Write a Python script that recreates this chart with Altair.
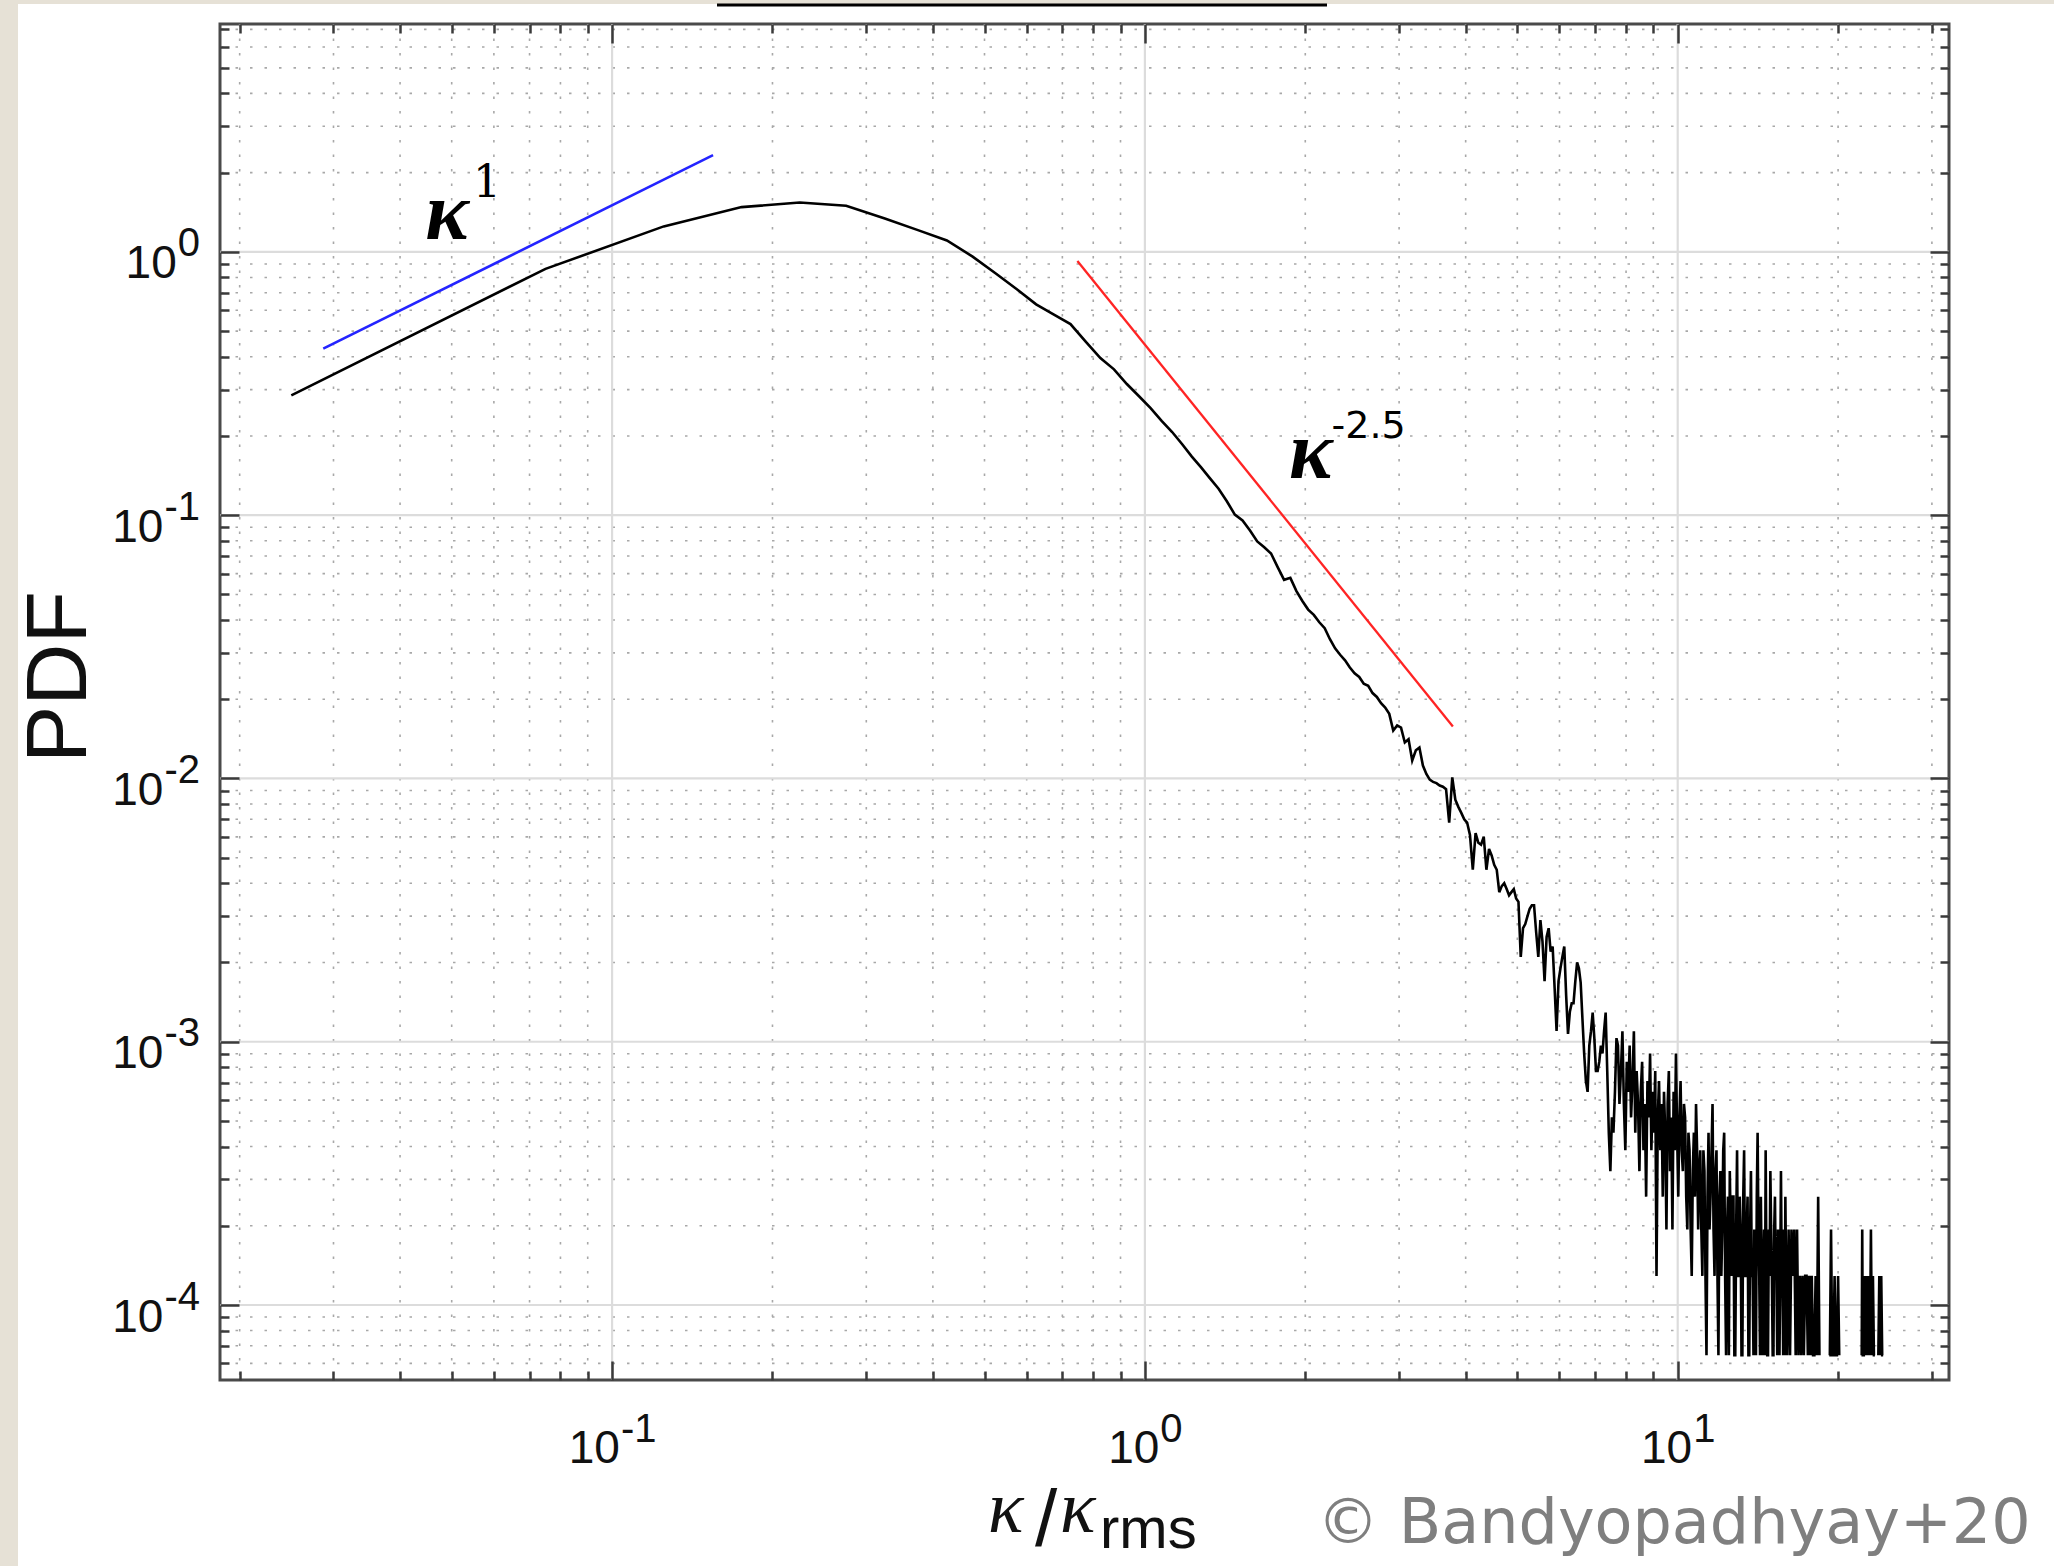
import altair as alt
import pandas as pd

# ---------------- data ----------------
# smooth / moderately noisy part of the PDF (bin centres, PDF value)
HEAD_KAPPA = [
    0.025, 0.075, 0.125, 0.175, 0.225, 0.275, 0.325, 0.375, 0.425, 0.475,
    0.525, 0.575, 0.625, 0.675, 0.725, 0.775, 0.825, 0.875, 0.925, 0.975,
    1.025, 1.075, 1.125, 1.175, 1.225, 1.275, 1.325, 1.375, 1.425, 1.475,
    1.525, 1.575, 1.625, 1.675, 1.725, 1.775, 1.825, 1.875, 1.925, 1.975,
    2.025, 2.075, 2.125, 2.175, 2.225, 2.275, 2.325, 2.375, 2.425, 2.475,
    2.525, 2.575, 2.625, 2.675, 2.725, 2.775, 2.825, 2.875, 2.925, 2.975,
    3.025, 3.075, 3.125, 3.175, 3.225, 3.275, 3.325, 3.375, 3.425, 3.475,
    3.525, 3.575, 3.625, 3.675, 3.725, 3.775, 3.825, 3.875, 3.925, 3.975,
    4.025, 4.075, 4.125, 4.175, 4.225, 4.275, 4.325, 4.375, 4.425, 4.475,
    4.525, 4.575, 4.625, 4.675, 4.725, 4.775, 4.825, 4.875, 4.925, 4.975,
    5.025, 5.075, 5.125, 5.175, 5.225, 5.275, 5.325, 5.375, 5.425, 5.475,
    5.525, 5.575, 5.625, 5.675, 5.725, 5.775, 5.825, 5.875, 5.925, 5.975,
    6.025, 6.075, 6.125, 6.175, 6.225, 6.275, 6.325, 6.375, 6.425, 6.475, 6.525,
]
HEAD_PDF = [
    0.285, 0.862, 1.25, 1.48, 1.54, 1.497, 1.34, 1.21, 1.105, 0.96,
    0.828, 0.722, 0.632, 0.578, 0.532, 0.455, 0.395, 0.358, 0.315, 0.283,
    0.255, 0.228, 0.207, 0.186, 0.167, 0.152, 0.138, 0.126, 0.113, 0.1005,
    0.0955, 0.0875, 0.0795, 0.0755, 0.0715, 0.0635, 0.0568, 0.0578, 0.0515, 0.0472,
    0.0438, 0.0418, 0.0392, 0.0372, 0.0338, 0.0312, 0.0295, 0.0281, 0.0264, 0.0251,
    0.0243, 0.0229, 0.0225, 0.0211, 0.0204, 0.0193, 0.0186, 0.0176, 0.0152, 0.0159,
    0.0156, 0.0137, 0.0141, 0.0117, 0.0128, 0.0131, 0.0112, 0.0104, 0.0099, 0.0097,
    0.0096, 0.0094, 0.0093, 0.0091, 0.0068, 0.0101, 0.0083, 0.0078, 0.0074, 0.0070,
    0.0068, 0.0061, 0.0045, 0.0062, 0.0057, 0.0056, 0.0060, 0.0045, 0.0054, 0.0051,
    0.0047, 0.0045, 0.0037, 0.0039, 0.0040, 0.0038, 0.0036, 0.0037, 0.0038, 0.0035,
    0.0034, 0.0021, 0.0027, 0.0028, 0.0030, 0.0032, 0.0033, 0.0033, 0.0026, 0.0021,
    0.0029, 0.0024, 0.0017, 0.0025, 0.0027, 0.0022, 0.0023, 0.0016, 0.0011, 0.0017,
    0.0019, 0.0021, 0.0023, 0.0015, 0.00107, 0.0013, 0.0014, 0.0014, 0.0017, 0.0020, 0.0019,
]

# noisy tail: read as number of counts per bin (quantised levels)
COUNT_UNIT = 6.45e-5
TAIL_KAPPA = [
    6.575, 6.625, 6.675, 6.725, 6.775, 6.825, 6.875, 6.925, 6.975, 7.025,
    7.075, 7.125, 7.175, 7.225, 7.275, 7.325, 7.375, 7.425, 7.475, 7.525,
    7.575, 7.625, 7.675, 7.725, 7.775, 7.825, 7.875, 7.925, 7.975, 8.025,
    8.075, 8.125, 8.175, 8.225, 8.275, 8.325, 8.375, 8.425, 8.475, 8.525,
    8.575, 8.625, 8.675, 8.725, 8.775, 8.825, 8.875, 8.925, 8.975, 9.025,
    9.075, 9.125, 9.175, 9.225, 9.275, 9.325, 9.375, 9.425, 9.475, 9.525,
    9.575, 9.625, 9.675, 9.725, 9.775, 9.825, 9.875, 9.925, 9.975,
]
TAIL_COUNTS = [
    26, 19, 14, 11, 10, 15, 17, 20, 16, 12,
    12, 13, 15, 14, 17, 20, 12, 7, 5, 8,
    7, 10, 16, 15, 9, 12, 17, 9, 6, 13,
    10, 15, 8, 11, 17, 7, 12, 9, 5, 10,
    13, 6, 9, 4, 11, 8, 14, 6, 10, 7,
    12, 2, 8, 11, 6, 9, 4, 10, 7, 3,
    9, 12, 5, 8, 3, 10, 6, 14, 7,
]
FAR_KAPPA = [
    10.025, 10.075, 10.125, 10.175, 10.225, 10.275, 10.325, 10.375, 10.425, 10.475,
    10.525, 10.575, 10.625, 10.675, 10.725, 10.775, 10.825, 10.875, 10.925, 10.975,
    11.025, 11.075, 11.125, 11.175, 11.225, 11.275, 11.325, 11.375, 11.425, 11.475,
    11.525, 11.575, 11.625, 11.675, 11.725, 11.775, 11.825, 11.875, 11.925, 11.975,
    12.025, 12.075, 12.125, 12.175, 12.225, 12.275, 12.325, 12.375, 12.425, 12.475,
    12.525, 12.575, 12.625, 12.675, 12.725, 12.775, 12.825, 12.875, 12.925, 12.975,
    13.025, 13.075, 13.125, 13.175, 13.225, 13.275, 13.325, 13.375, 13.425, 13.475,
    13.525, 13.575, 13.625, 13.675, 13.725, 13.775, 13.825, 13.875, 13.925, 13.975,
    14.025, 14.075, 14.125, 14.175, 14.225, 14.275, 14.325, 14.375, 14.425, 14.475,
    14.525, 14.575, 14.625, 14.675, 14.725, 14.775, 14.825, 14.875, 14.925, 14.975,
    15.025, 15.075, 15.125, 15.175, 15.225, 15.275, 15.325, 15.375, 15.425, 15.475,
    15.525, 15.575, 15.625, 15.675, 15.725, 15.775, 15.825, 15.875, 15.925, 15.975,
    16.05, 16.15, 16.25, 16.35, 16.45, 16.55, 16.65, 16.75, 16.85, 16.95,
    17.05, 17.15, 17.25, 17.35, 17.45, 17.55, 17.65, 17.75, 17.85, 17.95,
    18.05, 18.15, 18.25, 18.35, 18.45,
]
FAR_COUNTS = [
    4, 8, 11, 6, 5, 9, 8, 4, 3, 7,
    6, 3, 2, 5, 7, 4, 9, 6, 3, 5,
    6, 3, 2, 6, 5, 2, 1, 4, 7, 3,
    4, 6, 9, 3, 2, 5, 6, 2, 1, 4,
    5, 2, 3, 6, 7, 2, 1, 3, 4, 1,
    5, 3, 2, 4, 4, 1, 1, 3, 6, 2,
    2, 4, 3, 1, 1, 4, 6, 2, 2, 3,
    4, 1, 1, 3, 5, 2, 2, 1, 3, 2,
    1, 4, 7, 3, 2, 1, 4, 2, 1, 2,
    3, 1, 6, 2, 1, 1, 3, 2, 5, 3,
    2, 1, 1, 3, 4, 2, 2, 1, 3, 2,
    1, 2, 5, 2, 2, 1, 3, 1, 4, 2,
    1, 3, 1, 3, 2, 3, 1, 3, 1, 2,
    1, 2, 1, 2, 2, 1, 2, 1, 2, 1,
    1, 2, 1, 4, 1,
]
# isolated stretches after empty bins
ISLAND1_KAPPA = [19.25, 19.3, 19.4, 19.5, 19.6, 19.7, 19.8, 19.9, 20.0, 20.1]
ISLAND1_COUNTS = [1, 1, 3, 1, 1, 2, 1, 1, 2, 1]
ISLAND2_KAPPA = [22.15, 22.2, 22.25, 22.35, 22.45, 22.55, 22.65, 22.75, 22.85, 22.95,
                 23.05, 23.15, 23.25, 23.35, 23.45]
ISLAND2_COUNTS = [1, 3, 1, 1, 2, 1, 2, 1, 2, 1, 3, 1, 2, 1, 1]
ISLAND3_KAPPA = [23.8, 23.9, 24.0, 24.1, 24.2, 24.3]
ISLAND3_COUNTS = [1, 2, 1, 2, 1, 1]

# reference power laws
FIT1_KAPPA = [0.0287, 0.1547]
FIT1_PDF = [0.429, 2.33]
FIT2_KAPPA = [0.747, 3.785]
FIT2_PDF = [0.924, 0.01576]

# axes
X_DOMAIN = [0.01837, 32.3]
Y_DOMAIN = [5.19e-5, 7.34]
X_MAJOR = [0.1, 1, 10]
X_EXP = ["-1", "0", "1"]
Y_MAJOR = [1, 0.1, 0.01, 0.001, 0.0001]
Y_EXP = ["0", "-1", "-2", "-3", "-4"]
X_MINOR = [0.02, 0.03, 0.04, 0.05, 0.06, 0.07, 0.08, 0.09,
           0.2, 0.3, 0.4, 0.5, 0.6, 0.7, 0.8, 0.9,
           2, 3, 4, 5, 6, 7, 8, 9, 20, 30]
Y_MINOR = [6e-5, 7e-5, 8e-5, 9e-5,
           2e-4, 3e-4, 4e-4, 5e-4, 6e-4, 7e-4, 8e-4, 9e-4,
           2e-3, 3e-3, 4e-3, 5e-3, 6e-3, 7e-3, 8e-3, 9e-3,
           0.02, 0.03, 0.04, 0.05, 0.06, 0.07, 0.08, 0.09,
           0.2, 0.3, 0.4, 0.5, 0.6, 0.7, 0.8, 0.9,
           2, 3, 4, 5, 6, 7]

# ---------------- layout / style ----------------
W, H = 1729, 1356
SANS = "Liberation Sans"
SERIF = "Liberation Serif"
INK = "#111111"
BASE_SIZE = 46
EXP_SIZE = 40
PAPER = "#e6e1d6"

xs = alt.Scale(type="log", domain=X_DOMAIN, nice=False)
ys = alt.Scale(type="log", domain=Y_DOMAIN, nice=False)

# ---------------- frames ----------------
kap, pdf, seg = [], [], []
kap += HEAD_KAPPA; pdf += HEAD_PDF; seg += [0] * len(HEAD_KAPPA)
kap += TAIL_KAPPA; pdf += [c * COUNT_UNIT for c in TAIL_COUNTS]; seg += [0] * len(TAIL_KAPPA)
kap += FAR_KAPPA; pdf += [c * COUNT_UNIT for c in FAR_COUNTS]; seg += [0] * len(FAR_KAPPA)
for i, (kk, cc) in enumerate([(ISLAND1_KAPPA, ISLAND1_COUNTS),
                              (ISLAND2_KAPPA, ISLAND2_COUNTS),
                              (ISLAND3_KAPPA, ISLAND3_COUNTS)]):
    kap += kk; pdf += [c * COUNT_UNIT for c in cc]; seg += [i + 1] * len(kk)
curve = pd.DataFrame({"kappa": kap, "pdf": pdf, "seg": seg})

fit1 = pd.DataFrame({"kappa": FIT1_KAPPA, "pdf": FIT1_PDF})
fit2 = pd.DataFrame({"kappa": FIT2_KAPPA, "pdf": FIT2_PDF})

one = pd.DataFrame({"x": [1.0], "y": [1.0]})

layers = []

# paper edge of the slide (left and top strips)
layers.append(alt.Chart(one).mark_rect(color=PAPER).encode(
    x=alt.value(-220), x2=alt.value(-202), y=alt.value(-24), y2=alt.value(H + 186)))
layers.append(alt.Chart(one).mark_rect(color=PAPER).encode(
    x=alt.value(-220), x2=alt.value(W + 105), y=alt.value(-24), y2=alt.value(-20)))

# grid
layers.append(alt.Chart(pd.DataFrame({"v": X_MINOR})).mark_rule(
    color="#a8a8a8", strokeWidth=1.6, strokeDash=[2.5, 12]).encode(
    x=alt.X("v:Q", scale=xs, axis=None)))
layers.append(alt.Chart(pd.DataFrame({"v": Y_MINOR})).mark_rule(
    color="#a8a8a8", strokeWidth=1.6, strokeDash=[2.5, 12]).encode(
    y=alt.Y("v:Q", scale=ys, axis=None)))
layers.append(alt.Chart(pd.DataFrame({"v": X_MAJOR})).mark_rule(
    color="#dcdcdc", strokeWidth=2.2).encode(
    x=alt.X("v:Q", scale=xs, axis=None)))
layers.append(alt.Chart(pd.DataFrame({"v": Y_MAJOR})).mark_rule(
    color="#dcdcdc", strokeWidth=2.2).encode(
    y=alt.Y("v:Q", scale=ys, axis=None)))

# data
layers.append(alt.Chart(curve).mark_line(color="#000000", strokeWidth=2.6).encode(
    x=alt.X("kappa:Q", scale=xs, axis=None),
    y=alt.Y("pdf:Q", scale=ys, axis=None),
    detail="seg:N"))
layers.append(alt.Chart(fit1).mark_line(color="#2424ff", strokeWidth=2.6).encode(
    x=alt.X("kappa:Q", scale=xs, axis=None),
    y=alt.Y("pdf:Q", scale=ys, axis=None)))
layers.append(alt.Chart(fit2).mark_line(color="#ff2424", strokeWidth=2.3).encode(
    x=alt.X("kappa:Q", scale=xs, axis=None),
    y=alt.Y("pdf:Q", scale=ys, axis=None)))


# inward ticks on all four sides, drawn by axes moved inside the frame
def tick_axis(orient, values, length):
    return alt.Axis(orient=orient, values=values, offset=-length, tickSize=length,
                    tickWidth=2.5, tickColor="#3a3a3a", domain=False, labels=False,
                    grid=False, title=None, zindex=1)


for xo, yo, xv, yv, ln in [("bottom", "left", X_MAJOR, Y_MAJOR, 19),
                           ("bottom", "left", X_MINOR, Y_MINOR, 9),
                           ("top", "right", X_MAJOR, Y_MAJOR, 19),
                           ("top", "right", X_MINOR, Y_MINOR, 9)]:
    layers.append(alt.Chart(one).mark_point(opacity=0).encode(
        x=alt.X("x:Q", scale=xs, axis=tick_axis(xo, xv, ln)),
        y=alt.Y("y:Q", scale=ys, axis=tick_axis(yo, yv, ln))))


def adv(s, size):
    w = {"-": 0.333, ".": 0.278}
    return sum(w.get(c, 0.556) for c in s) * size


# y tick labels  10^e
for v, e in zip(Y_MAJOR, Y_EXP):
    d = pd.DataFrame({"v": [v]})
    ea = adv(e, EXP_SIZE)
    layers.append(alt.Chart(d).mark_text(
        text=e, align="right", baseline="alphabetic", font=SANS, fontSize=EXP_SIZE,
        dy=4.5, color=INK).encode(x=alt.value(-20), y=alt.Y("v:Q", scale=ys, axis=None)))
    layers.append(alt.Chart(d).mark_text(
        text="10", align="right", baseline="alphabetic", font=SANS, fontSize=BASE_SIZE,
        dy=26.5, color=INK).encode(x=alt.value(-20 - ea - 1), y=alt.Y("v:Q", scale=ys, axis=None)))

# x tick labels  10^e
for v, e in zip(X_MAJOR, X_EXP):
    d = pd.DataFrame({"v": [v]})
    w10 = adv("10", BASE_SIZE)
    total = w10 + adv(e, EXP_SIZE)
    layers.append(alt.Chart(d).mark_text(
        text="10", align="left", baseline="alphabetic", font=SANS, fontSize=BASE_SIZE,
        dx=-total / 2, color=INK).encode(x=alt.X("v:Q", scale=xs, axis=None), y=alt.value(H + 83)))
    layers.append(alt.Chart(d).mark_text(
        text=e, align="left", baseline="alphabetic", font=SANS, fontSize=EXP_SIZE,
        dx=-total / 2 + w10 + 1, color=INK).encode(x=alt.X("v:Q", scale=xs, axis=None), y=alt.value(H + 62)))

# power-law annotations
ANNOT = [
    ("κ", 0.0446, 1.118, SERIF, 82, "bold", "italic"),
    ("1", 0.0548, 1.62, "DejaVu Serif", 44, "normal", "normal"),
    ("κ", 1.865, 0.139, SERIF, 82, "bold", "italic"),
    ("-2.5", 2.24, 0.1957, "DejaVu Sans", 38, "normal", "normal"),
]
for t, ax, ay, f, fs, fw, fst in ANNOT:
    d = pd.DataFrame({"x": [ax], "y": [ay]})
    layers.append(alt.Chart(d).mark_text(
        text=t, align="left", baseline="alphabetic", font=f, fontSize=fs,
        fontWeight=fw, fontStyle=fst, color="#000000").encode(
        x=alt.X("x:Q", scale=xs, axis=None), y=alt.Y("y:Q", scale=ys, axis=None)))

# axis titles and other text
TITLES = [
    ("PDF", -160, 653, SANS, 86, "normal", "normal", "center", "middle", 270, INK),
    ("κ", 768, H + 152, SERIF, 74, "normal", "italic", "left", "alphabetic", 0, INK),
    ("/", 826, H + 166, SANS, 80, "normal", "normal", "center", "alphabetic", 0, INK),
    ("κ", 840, H + 152, SERIF, 74, "normal", "italic", "left", "alphabetic", 0, INK),
    ("rms", 880, H + 168, SANS, 58, "normal", "normal", "left", "alphabetic", 0, INK),
    ("© Bandyopadhyay+20", 1097, H + 163, "DejaVu Sans", 62, "normal", "normal", "left",
     "alphabetic", 0, "#7f7f7f"),
]
for t, px, py, f, fs, fw, fst, al, bl, ang, col in TITLES:
    layers.append(alt.Chart(one).mark_text(
        text=t, align=al, baseline=bl, font=f, fontSize=fs, fontWeight=fw,
        fontStyle=fst, angle=ang, color=col).encode(x=alt.value(px), y=alt.value(py)))

# underline of the slide title above the figure
layers.append(alt.Chart(one).mark_rule(color="#000000", strokeWidth=3).encode(
    x=alt.value(497), x2=alt.value(1107), y=alt.value(-19)))

chart = alt.layer(*layers).resolve_axis(
    x="independent", y="independent"
).properties(
    width=W, height=H,
    autosize=alt.AutoSizeParams(type="none"),
    padding={"left": 220, "top": 24, "right": 105, "bottom": 186},
).configure(background="white").configure_view(
    stroke="#4a4a4a", strokeWidth=3, fill="white")

chart.save("out.html", embed_options={"renderer": "svg", "actions": False})
